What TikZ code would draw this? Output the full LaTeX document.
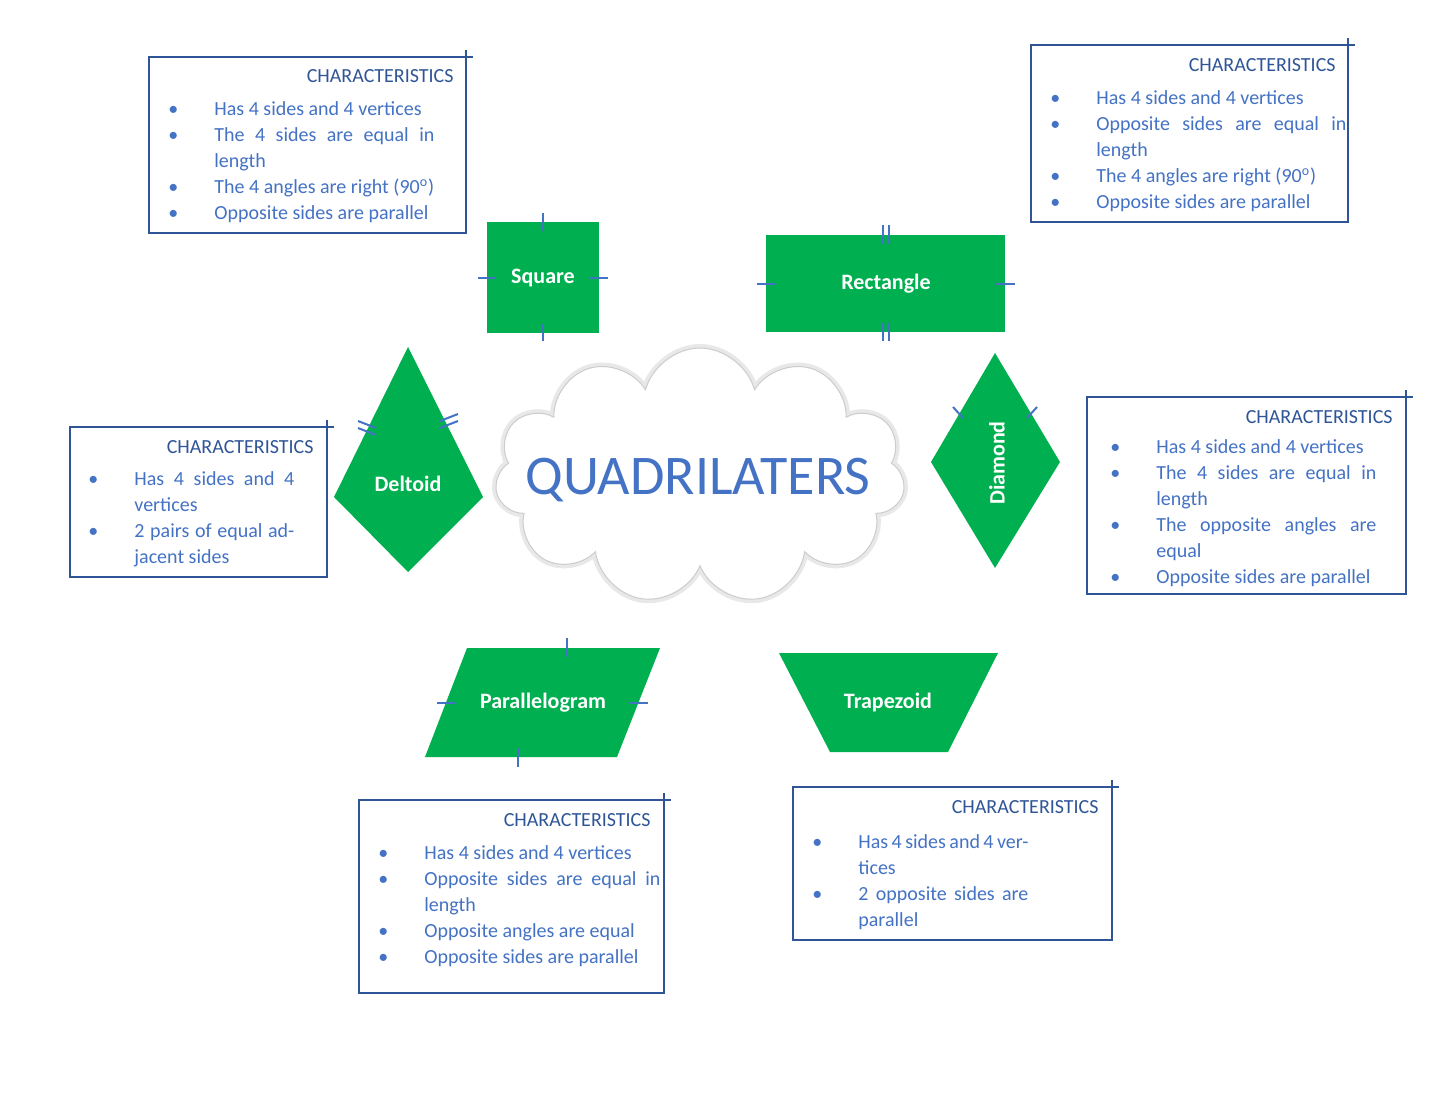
\documentclass[tikz,border=0pt]{standalone}
\usepackage{fontspec}
\setmainfont{Carlito}
\usetikzlibrary{shapes.symbols,shapes.geometric}
\definecolor{gr}{HTML}{00B050}
\definecolor{bl}{HTML}{4472C4}
\definecolor{dbl}{HTML}{2F5597}
\newcommand{\bx}[1]{\begin{tabular}{@{}p{11pt}p{#1}@{}}}
\newcommand{\bl}{\textbullet}
\begin{document}
\begin{tikzpicture}[x=0.5pt,y=-0.5pt,
  shp/.style={fill=gr,draw=none},
  lab/.style={text=white,font=\bfseries\fontsize{11}{13}\selectfont},
  tick/.style={draw=bl,line width=1pt},
  box/.style={draw=dbl,line width=0.6pt},
  txt/.style={anchor=north west,inner sep=0pt,text=bl,font=\fontsize{10}{13}\selectfont},
  hd/.style={anchor=north east,inner sep=0pt,text=dbl,font=\fontsize{10}{13}\selectfont}]
\useasboundingbox[fill=white] (0,0) rectangle (1445,1117);

% cloud
\node[cloud,cloud puffs=11,aspect=1.6,minimum width=205pt,minimum height=128pt,draw=gray!18,line width=4pt,fill=white] (cloudsh) at (700,476) {};
\node[cloud,cloud puffs=11,aspect=1.6,minimum width=205pt,minimum height=128pt,draw=gray!40,line width=0.5pt,fill=white] (cloud) at (700,476) {};
\node[text=bl,font=\fontsize{28}{30}\selectfont] (title) at (698,480) {QUADRILATERS};

% square
\draw[shp] (487,222) rectangle (599,333);
\node[lab] (sq) at (543,278) {Square};
\draw[tick] (543,213)--(543,231) (543,324)--(543,341) (478,278)--(496,278) (590,278)--(608,278);

% rectangle
\draw[shp] (766,235) rectangle (1005,332);
\node[lab] (rect) at (886,284) {Rectangle};
\draw[tick] (883,225)--(883,244) (889,225)--(889,244) (883,323)--(883,341) (889,323)--(889,341)
  (757,284)--(776,284) (996,284)--(1015,284);

% deltoid
\draw[shp] (408,347)--(483,497)--(408,572)--(334,497)--cycle;
\node[lab] (delt) at (408,484) {Deltoid};
\draw[tick] (358,421)--(376,428) (358,428)--(376,435) (440,421)--(458,414) (440,428)--(458,421);

% diamond
\draw[shp] (995,353)--(1060,462)--(995,568)--(931,462)--cycle;
\node[lab,rotate=90] (diam) at (997,463) {Diamond};
\draw[tick] (953,407)--(963,418) (1037,407)--(1027,418);

% parallelogram
\draw[shp] (467,648)--(660,648)--(617,757)--(425,757)--cycle;
\node[lab] (par) at (543,703) {Parallelogram};
\draw[tick] (567,638)--(567,657) (518,748)--(518,767) (437,703)--(455,703) (630,703)--(648,703);

% trapezoid
\draw[shp] (779,653)--(998,653)--(948,752)--(830,752)--cycle;
\node[lab] (trap) at (888,703) {Trapezoid};

% box 1 square
\draw[box] (149,57) rectangle (466,233) (466,57)--(473,57) (466,57)--(466,50);
\node[hd] (h1) at (454,69) {CHARACTERISTICS};
\node[txt] (t1) at (168,97) {\bx{110pt}\bl & Has 4 sides and 4 vertices\\ \bl & The 4 sides are equal in length\\ \bl & The 4 angles are right (90\textsuperscript{o})\\ \bl & Opposite sides are parallel\end{tabular}};

% box 2 rectangle
\draw[box] (1031,45) rectangle (1348,222) (1348,45)--(1355,45) (1348,45)--(1348,38);
\node[hd] (h2) at (1336,58) {CHARACTERISTICS};
\node[txt] (t2) at (1050,86) {\bx{125pt}\bl & Has 4 sides and 4 vertices\\ \bl & Opposite sides are equal in length\\ \bl & The 4 angles are right (90\textsuperscript{o})\\ \bl & Opposite sides are parallel\end{tabular}};

% box 3 deltoid
\draw[box] (70,427) rectangle (327,577) (327,427)--(334,427) (327,427)--(327,420);
\node[hd] (h3) at (314,440) {CHARACTERISTICS};
\node[txt] (t3) at (88,467) {\bx{80pt}\bl & Has 4 sides and 4 vertices\\ \bl & 2 pairs of equal adjacent sides\end{tabular}};

% box 4 diamond
\draw[box] (1087,397) rectangle (1406,594) (1406,397)--(1413,397) (1406,397)--(1406,390);
\node[hd] (h4) at (1393,410) {CHARACTERISTICS};
\node[txt] (t4) at (1110,435) {\bx{110pt}\bl & Has 4 sides and 4 vertices\\ \bl & The 4 sides are equal in length\\ \bl & The opposite angles are equal\\ \bl & Opposite sides are parallel\end{tabular}};

% box 5 parallelogram
\draw[box] (359,800) rectangle (664,993) (664,800)--(671,800) (664,800)--(664,793);
\node[hd] (h5) at (651,813) {CHARACTERISTICS};
\node[txt] (t5) at (378,841) {\bx{118pt}\bl & Has 4 sides and 4 vertices\\ \bl & Opposite sides are equal in length\\ \bl & Opposite angles are equal\\ \bl & Opposite sides are parallel\end{tabular}};

% box 6 trapezoid
\draw[box] (793,787) rectangle (1112,940) (1112,787)--(1119,787) (1112,787)--(1112,780);
\node[hd] (h6) at (1099,800) {CHARACTERISTICS};
\node[txt] (t6) at (812,830) {\bx{85pt}\bl & Has 4 sides and 4 vertices\\ \bl & 2 opposite sides are parallel\end{tabular}};
\end{tikzpicture}
\end{document}
